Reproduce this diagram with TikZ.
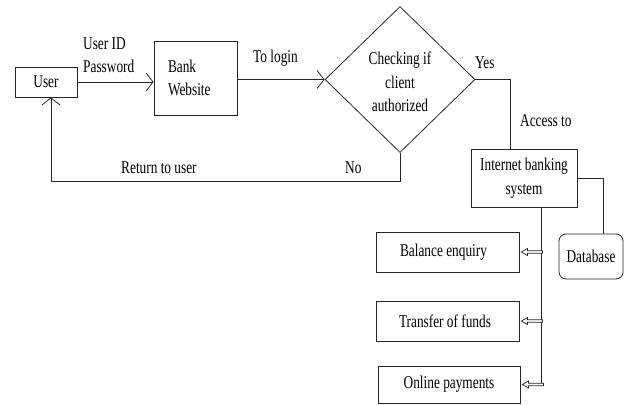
\documentclass[tikz,border=0pt]{standalone}
\usepackage{fontspec}
\setmainfont{Liberation Serif}[FakeStretch=0.74]
\usetikzlibrary{arrows.meta,shapes.geometric,calc}
\begin{document}
\begin{tikzpicture}[x=1pt,y=-1pt,
  font=\fontsize{18}{23.5}\selectfont,
  every node/.style={inner sep=0pt, text=black},
  box/.style={draw=black!85, line width=0.8pt, rectangle, align=center},
  conn/.style={draw=black!85, line width=0.8pt},
  barb/.style={-{Straight Barb[length=7pt,width=18pt,line width=0.8pt]}},
  hollow/.style={draw=black!85, line width=0.7pt, fill=white},
  lbl/.style={anchor=base west}]
\useasboundingbox (0,0) rectangle (626,404);
% nodes
\node[box, minimum width=62pt, minimum height=30pt] (user) at (46,82) {User};
\node[box, minimum width=83pt, minimum height=74pt, text width=55pt, align=left] (bank) at (195.5,78) {Bank\\Website};
\node[draw=black!85, line width=0.8pt, diamond, minimum width=150pt, minimum height=146pt] (dia) at (400,79.5) {};
\node[align=center] (dtext) at (400,82) {Checking if\\client\\authorized};
\node[box, minimum width=106pt, minimum height=58pt] (ibs) at (524,178) {Internet banking\\system};
\node[box, rounded corners=7pt, minimum width=64pt, minimum height=45pt] (db) at (591,256.5) {Database};
\node[box, minimum width=143pt, minimum height=40pt] (bal) at (447.5,252) {Balance enquiry\hspace*{8pt}};
\node[box, minimum width=143pt, minimum height=40pt] (tr) at (447.5,321) {Transfer of funds\hspace*{5pt}};
\node[box, minimum width=142pt, minimum height=37pt] (op) at (449,384.5) {Online payments};
% labels
\node[lbl] (l1) at (83,50) {User ID};
\node[lbl] (l2) at (83,73) {Password};
\node[lbl] (l3) at (253,63) {To login};
\node[lbl] (l4) at (475,69) {Yes};
\node[lbl] (l5) at (520,126) {Access to};
\node[lbl] (l6) at (121,173) {Return to user};
\node[lbl] (l7) at (345,173) {No};
% connectors
\draw[conn, barb] (user.east) -- (user.east -| bank.west);
\draw[conn, barb] (bank.east |- dia.west) -- (dia.west);
\draw[conn] (dia.east) -| ([xshift=-14pt]ibs.north);
\coordinate (ret) at (51,181);
\draw[conn, barb] (dia.south) |- (ret) -- (ret |- user.south);
\draw[conn] (ibs.east) -| ([xshift=12pt]db.north);
\coordinate (bus) at ([xshift=17pt]ibs.south);
\draw[conn] (bus) -- (bus |- op.east);
\foreach \n in {bal,tr,op}{
  \draw[hollow] ([xshift=2pt]\n.east) -- ++(6,-3.5) -- ++(0,2.3) -- ++(15,0) -- ++(0,2.4) -- ++(-15,0) -- ++(0,2.3) -- cycle;
}
\end{tikzpicture}
\end{document}
